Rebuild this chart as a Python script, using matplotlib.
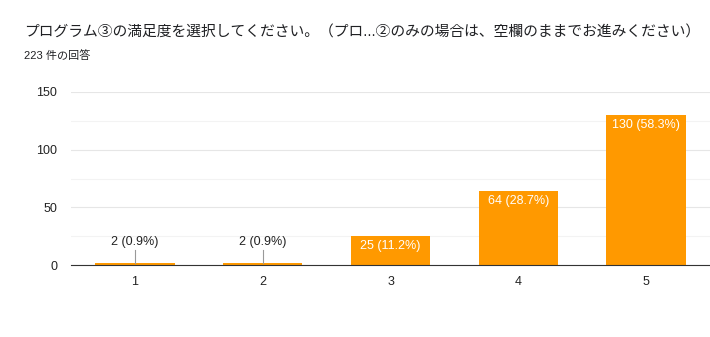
import numpy as np
import matplotlib
matplotlib.use('Agg')
import matplotlib.pyplot as plt

plt.rcParams['font.family'] = ['Liberation Sans', 'Noto Sans CJK JP', 'DejaVu Sans']

title = 'プログラム③の満足度を選択してください。（プロ...②のみの場合は、空欄のままでお進みください）'
subtitle = '223 件の回答'
categories = ['1', '2', '3', '4', '5']
counts = [2, 2, 25, 64, 130]
percents = [0.9, 0.9, 11.2, 28.7, 58.3]

fig = plt.figure(figsize=(7.10, 3.37), dpi=100)
ax = fig.add_axes([71 / 710, 1 - 265 / 337, 639 / 710, 173 / 337])

x = np.arange(len(categories))
bars = ax.bar(x, counts, width=0.62, color='#ff9900', zorder=3)

ax.set_xlim(-0.5, len(categories) - 0.5)
ax.set_ylim(0, 150)
ax.set_yticks([0, 50, 100, 150])
ax.set_yticks([25, 75, 125], minor=True)
ax.set_xticks(x)
ax.set_xticklabels(categories)
ax.grid(axis='y', which='major', color='#e6e6e6', linewidth=0.8, zorder=0)
ax.grid(axis='y', which='minor', color='#f3f3f3', linewidth=0.8, zorder=0)
ax.tick_params(axis='both', which='both', length=0, labelsize=9, colors='#222222')
ax.tick_params(axis='x', pad=8)
ax.tick_params(axis='y', pad=10)
for s in ['top', 'right', 'left']:
    ax.spines[s].set_visible(False)
ax.spines['bottom'].set_color('#333333')
ax.spines['bottom'].set_zorder(4)

for xi, c, p in zip(x, counts, percents):
    label = f'{c} ({p}%)'
    if c < 20:
        ax.plot([xi, xi], [c, c + 11], color='#999999', linewidth=0.8, zorder=4)
        ax.text(xi, c + 13, label, ha='center', va='bottom', fontsize=9, color='#222222')
    else:
        ax.text(xi, c - 3, label, ha='center', va='top', fontsize=9, color='white', zorder=5)

fig.text(24 / 710, 1 - 33 / 337, title, fontsize=10.65, va='center', ha='left', color='#202124')
fig.text(24 / 710, 1 - 56 / 337, subtitle, fontsize=8, va='center', ha='left', color='#202124')

fig.savefig('out.png', dpi=100)
